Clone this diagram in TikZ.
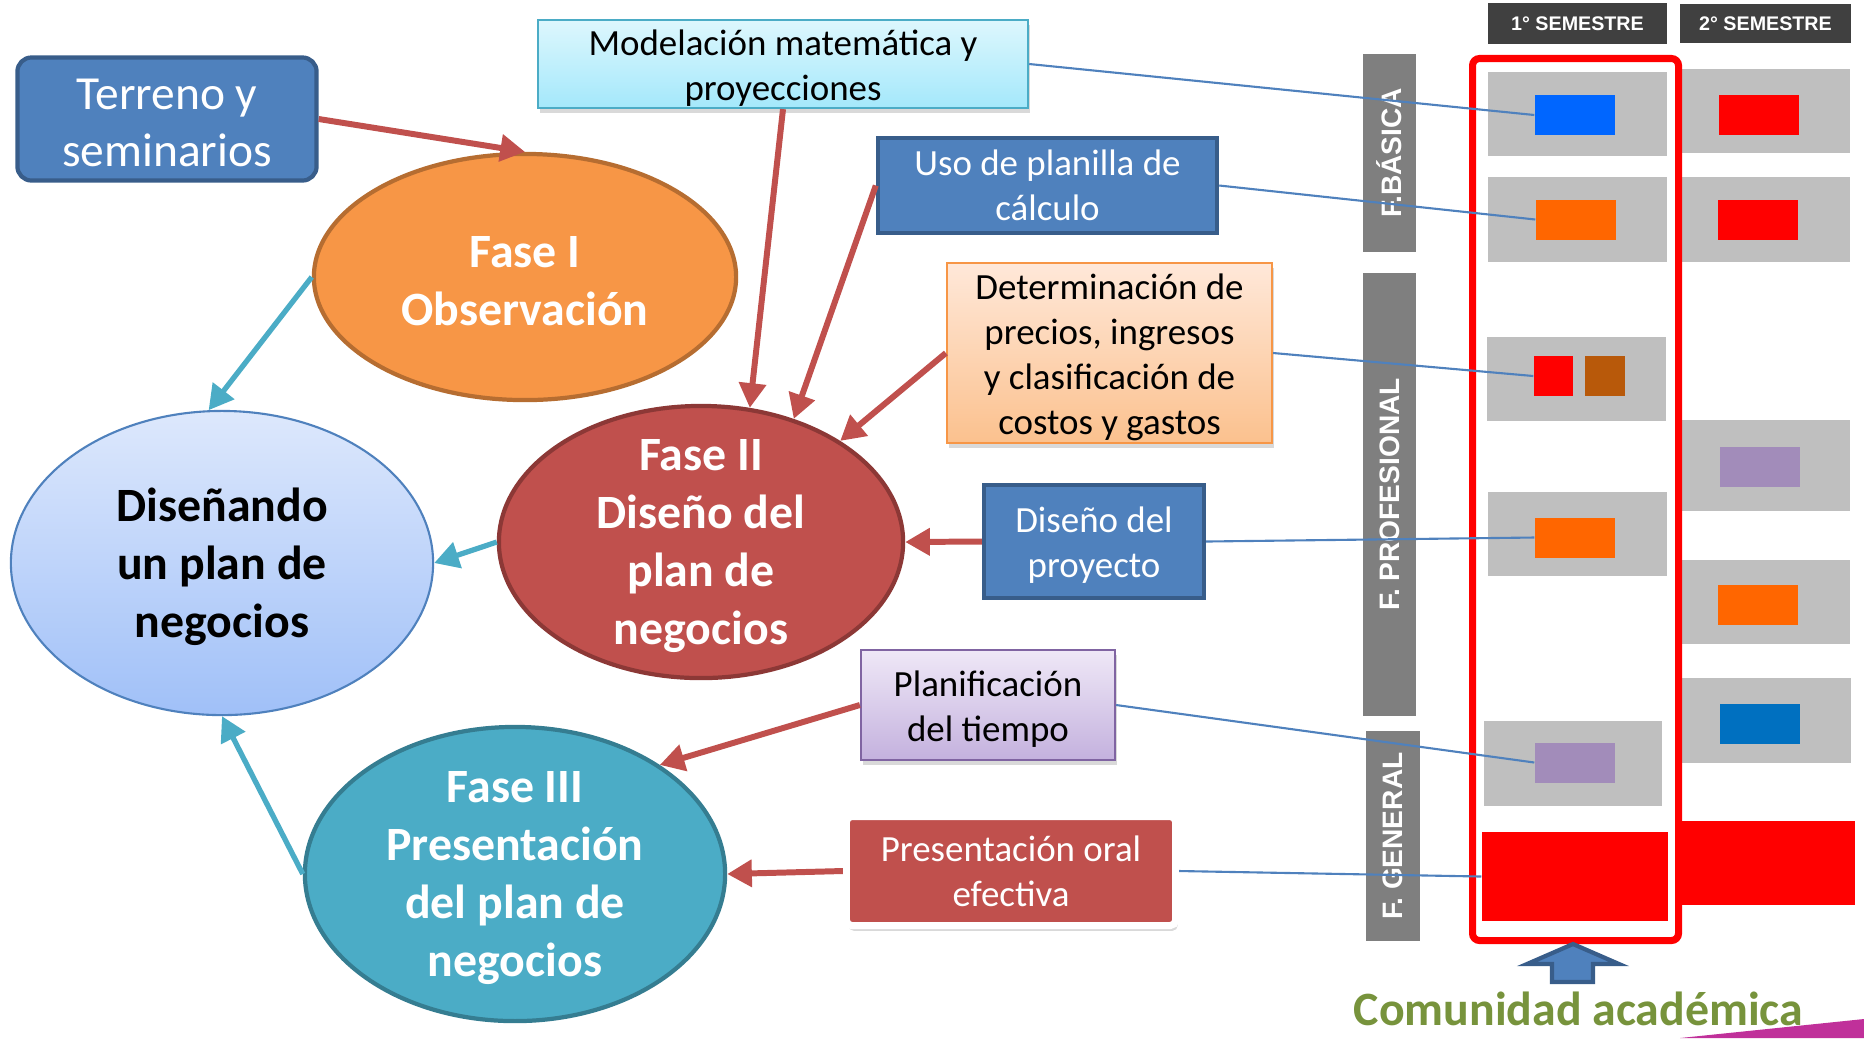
\documentclass[tikz,border=0pt]{standalone}
\usepackage{fontspec}
\setmainfont{Carlito}
\newfontfamily\arialfont{Liberation Sans}
\usetikzlibrary{arrows.meta,shapes.geometric,shadows}

\definecolor{boxblue}{HTML}{4F81BD}
\definecolor{boxblued}{HTML}{385D8A}
\definecolor{arred}{HTML}{C0504D}
\definecolor{arblue}{HTML}{4BACC6}
\definecolor{fase1}{HTML}{F79646}
\definecolor{fase1d}{HTML}{B66D31}
\definecolor{fase2d}{HTML}{8C3836}
\definecolor{fase3d}{HTML}{357D91}
\definecolor{disetop}{HTML}{DDE8FC}
\definecolor{disebot}{HTML}{A0C0F8}
\definecolor{modtop}{HTML}{DDF7FD}
\definecolor{modbot}{HTML}{A4E8FB}
\definecolor{dettop}{HTML}{FFE8D9}
\definecolor{detbot}{HTML}{FBC18E}
\definecolor{detd}{HTML}{F79646}
\definecolor{plantop}{HTML}{EFE8F7}
\definecolor{planbot}{HTML}{C4B1DE}
\definecolor{pland}{HTML}{8064A2}
\definecolor{cellgray}{HTML}{BFBFBF}
\definecolor{bargray}{HTML}{7F7F7F}
\definecolor{headgray}{HTML}{404040}
\definecolor{chipblue}{HTML}{0066FF}
\definecolor{chipblueb}{HTML}{0070C0}
\definecolor{chiporange}{HTML}{FF6600}
\definecolor{chipbrown}{HTML}{B8590A}
\definecolor{chippurple}{HTML}{A28CBA}
\definecolor{chipred}{HTML}{FF0000}
\definecolor{comgreen}{HTML}{77933C}
\definecolor{wedge}{HTML}{C0309A}

% strut that lowers the text of a box a little
\newcommand{\lowr}[1][9.5pt]{\rule{0pt}{#1}}

\begin{document}
\begin{tikzpicture}[
        x=0.01cm, y=-0.01cm, % one unit = one pixel
        >={Triangle[length=7pt,width=7.5pt]}, % arrow head style
        font=\fontsize{10.5}{12.8}\selectfont]

        \tikzstyle{box}=[
            rectangle,
            inner sep=0pt,
            align=center
        ]
        \tikzstyle{phase}=[
            ellipse,
            inner sep=0pt,
            line width=1.2pt
        ]
        \tikzset{ph/.style={text=white, align=center, yshift=-1.2pt, font=\fontsize{13.6}{16.5}\selectfont\bfseries}}
        \tikzset{chip/.style={inner sep=0pt, minimum width=0.8cm, minimum height=0.4cm}}
        \tikzset{fbar/.style={fill=bargray, rotate=90, inner sep=0pt, minimum height=0.53cm, text=white, font=\arialfont\bfseries\fontsize{8}{9}\selectfont}}
        \tikzset{redarr/.style={->, draw=arred, line width=1.7pt}}
        \tikzset{bluearr/.style={->, draw=arblue, line width=1.5pt}}
        \tikzset{link/.style={draw=boxblue, line width=0.6pt}}
        \tikzset{shad/.style={drop shadow={opacity=0.3, shadow xshift=0.6pt, shadow yshift=-1.5pt}}}

        \useasboundingbox (0,0) rectangle (1864,1038);

        % phases
        \node[phase, fill=fase1, draw=fase1d, minimum width=4.22cm, minimum height=2.46cm,
            label={[ph]center:Fase I\\Observación}] (f1) at (525,277) {};
        \node[phase, top color=disetop, bottom color=disebot, draw=boxblue, line width=0.6pt,
            minimum width=4.22cm, minimum height=3.04cm,
            label={[ph, text=black]center:Diseñando\\un plan de\\negocios}] (dis) at (222,563) {};
        \node[phase, fill=arred, draw=fase2d, minimum width=4.04cm, minimum height=2.72cm,
            label={[ph]center:Fase II\\Diseño del\\plan de\\negocios}] (f2) at (701,542) {};
        \node[phase, fill=arblue, draw=fase3d, minimum width=4.20cm, minimum height=2.94cm,
            label={[ph]center:Fase III\\Presentación\\del plan de\\negocios}] (f3) at (515,874) {};

        % boxes
        \node[box, rounded corners=4pt, fill=boxblue, draw=boxblued, line width=1.2pt, text=white,
            minimum width=2.99cm, minimum height=1.23cm, font=\fontsize{13.5}{16.2}\selectfont]
            (terr) at (167,119) {\lowr[10.7pt]Terreno y\\seminarios};
        \node[box, shad, top color=modtop, bottom color=modbot, draw=arblue, line width=0.6pt,
            minimum width=4.90cm, minimum height=0.88cm] (mod) at (783,64) {\lowr Modelación matemática y\\proyecciones};
        \node[box, fill=boxblue, draw=boxblued, line width=1.2pt, text=white,
            minimum width=3.39cm, minimum height=0.95cm] (uso) at (1047.5,185.5) {Uso de planilla de\\cálculo};
        \node[box, shad, top color=dettop, bottom color=detbot, draw=detd, line width=0.6pt,
            minimum width=3.25cm, minimum height=1.80cm] (det) at (1109.5,353)
            {\lowr Determinación de\\precios, ingresos\\y clasificación de\\costos y gastos};
        \node[box, fill=boxblue, draw=boxblued, line width=1.2pt, text=white,
            minimum width=2.20cm, minimum height=1.13cm] (proy) at (1094,541.5) {\lowr Diseño del\\proyecto};
        \node[box, shad, top color=plantop, bottom color=planbot, draw=pland, line width=0.6pt,
            minimum width=2.54cm, minimum height=1.10cm] (plan) at (988,705) {\lowr Planificación\\del tiempo};
        \node[box, shad, rounded corners=1.5pt, fill=arred, draw=white, line width=2pt, text=white,
            minimum width=3.29cm, minimum height=1.09cm] (oral) at (1011,871) {Presentación oral\\efectiva};

        % semesters table
        \node[fill=headgray, text=white, inner sep=0pt, minimum width=1.79cm, minimum height=0.41cm,
            font=\arialfont\bfseries\fontsize{5.6}{6.5}\selectfont] (sem1) at (1577.5,23.5) {1° SEMESTRE};
        \node[fill=headgray, text=white, inner sep=0pt, minimum width=1.71cm, minimum height=0.39cm,
            font=\arialfont\bfseries\fontsize{5.6}{6.5}\selectfont] (sem2) at (1765.5,23.5) {2° SEMESTRE};

        \node[fbar, minimum width=1.98cm] (fbas) at (1389.5,153) {F.BÁSICA};
        \node[fbar, minimum width=4.43cm] (fpro) at (1389.5,494.5) {F. PROFESIONAL};
        \node[fbar, minimum width=2.10cm, minimum height=0.54cm] (fgen) at (1393,836) {F. GENERAL};

        \foreach \a/\b/\c/\d in {1488/72/1667/156, 1488/177/1667/262, 1487/337/1666/421,
            1488/492/1667/576, 1484/721/1662/806, 1682/69/1850/153, 1682/177/1850/262,
            1682/420/1850/511, 1682/560/1850/644, 1682/678/1851/763}
            \fill[cellgray] (\a,\b) rectangle (\c,\d);

        \node[chip, fill=chipblue] (c1) at (1575,115) {};
        \node[chip, fill=chiporange] (c2) at (1576,219.5) {};
        \node[chip, fill=chipred, minimum width=0.39cm] (c3) at (1553.5,376) {};
        \node[chip, fill=chipbrown, minimum width=0.40cm] (c4) at (1605,376) {};
        \node[chip, fill=chiporange] (c5) at (1575,537.5) {};
        \node[chip, fill=chippurple] (c6) at (1575,762.5) {};
        \node[chip, fill=chipred, minimum width=1.86cm, minimum height=0.89cm] (c7) at (1575,876.5) {};

        \node[chip, fill=chipred] (d1) at (1758.5,115) {};
        \node[chip, fill=chipred] (d2) at (1757.5,219.5) {};
        \node[chip, fill=chippurple] (d3) at (1759.5,467) {};
        \node[chip, fill=chiporange] (d4) at (1757.5,605) {};
        \node[chip, fill=chipblueb] (d5) at (1759.5,723.5) {};
        \node[chip, fill=chipred, minimum width=1.73cm, minimum height=0.84cm] (d6) at (1768.5,863) {};

        \draw[chipred, line width=2pt, rounded corners=2pt] (1472.5,58.5) rectangle (1678.5,940.5);

        % up arrow and caption
        \draw[fill=boxblue, draw=boxblued, line width=1.2pt] (1573,944) -- (1619,964) -- (1593,964)
            -- (1593,982) -- (1552,982) -- (1552,964) -- (1527,964) -- cycle;
        \node[text=comgreen, anchor=base west, inner sep=0pt, font=\fontsize{13.6}{16}\selectfont\bfseries]
            (com) at (1353,1025) {Comunidad académica};
        \fill[wedge] (1680,1038) -- (1864,1019) -- (1864,1038) -- cycle;

        % connectors
        \path
        (mod.east) edge[link] (c1.west)
        (uso.east) edge[link] (c2.west)
        (det.east) edge[link] (c3.west)
        (proy.east) edge[link] (c5.west)
        (plan.east) edge[link] (c6.west)
        (oral.east) edge[link] (c7.west)
        ;
        \path
        (terr.east) edge[redarr] (f1.north)
        (mod.south) edge[redarr] (f2.70)
        (uso.west) edge[redarr] (f2.53)
        (det.west) edge[redarr] (f2.36)
        (proy.west) edge[redarr] (f2.east)
        (plan.west) edge[redarr] (f3.37)
        (oral.west) edge[redarr] (f3.east)
        (f1.west) edge[bluearr] (dis.95)
        (f2.west) edge[bluearr] (dis.east)
        (f3.west) edge[bluearr] (dis.south)
        ;
    \end{tikzpicture}
\end{document}
